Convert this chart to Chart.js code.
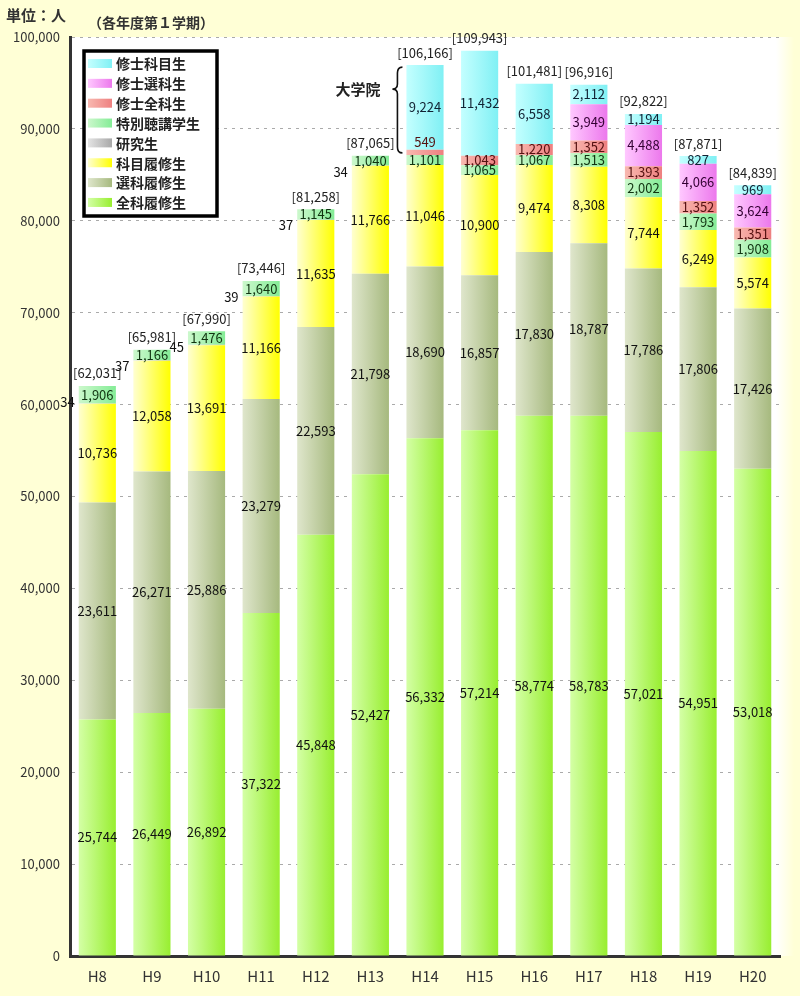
<!DOCTYPE html>
<html lang="ja">
<head>
<meta charset="utf-8">
<script src="https://cdn.jsdelivr.net/npm/chart.js@4"></script>
<style>
  html, body { margin: 0; padding: 0; background: #ffffd6; }
  #wrap { position: relative; width: 800px; height: 996px; }
</style>
</head>
<body>
<div id="wrap"><canvas id="enrollChart"></canvas></div>
<script>
// 各年度第1学期の在籍者数（単位：人）
const years = ["H8", "H9", "H10", "H11", "H12", "H13", "H14", "H15", "H16", "H17", "H18", "H19", "H20"];
const zenkaRishu = [25744, 26449, 26892, 37322, 45848, 52427, 56332, 57214, 58774, 58783, 57021, 54951, 53018];
const senkaRishu = [23611, 26271, 25886, 23279, 22593, 21798, 18690, 16857, 17830, 18787, 17786, 17806, 17426];
const kamokuRishu = [10736, 12058, 13691, 11166, 11635, 11766, 11046, 10900, 9474, 8308, 7744, 6249, 5574];
const kenkyusei = [34, 37, 45, 39, 37, 34, null, null, null, null, null, null, null];
const tokubetsuChoko = [1906, 1166, 1476, 1640, 1145, 1040, 1101, 1065, 1067, 1513, 2002, 1793, 1908];
const shushiZenka = [null, null, null, null, null, null, 549, 1043, 1220, 1352, 1393, 1352, 1351];
const shushiSenka = [null, null, null, null, null, null, null, null, null, 3949, 4488, 4066, 3624];
const shushiKamoku = [null, null, null, null, null, null, 9224, 11432, 6558, 2112, 1194, 827, 969];
const totals = [62031, 65981, 67990, 73446, 81258, 87065, 106166, 109943, 101481, 96916, 92822, 87871, 84839];
const yTicks = [0, 10000, 20000, 30000, 40000, 50000, 60000, 70000, 80000, 90000, 100000];

const FONT = "'Noto Sans CJK JP', 'Noto Sans', sans-serif";
const BAR_PCT = 0.68;

// horizontal gradient across each bar, light on the left
function barFill(colors) {
  return function (context) {
    const chart = context.chart;
    const xs = chart.scales.x;
    if (!chart.chartArea || !xs || context.dataIndex == null) return colors[1];
    const cx = xs.getPixelForValue(context.dataIndex);
    const half = (xs.width / years.length) * BAR_PCT / 2;
    const g = chart.ctx.createLinearGradient(cx - half, 0, cx + half, 0);
    g.addColorStop(0, colors[0]);
    g.addColorStop(1, colors[1]);
    return g;
  };
}

function makeSet(label, data, colors, textColor) {
  return {
    label: label,
    data: data,
    backgroundColor: barFill(colors),
    legendColors: colors,
    textColor: textColor,
    borderWidth: 0,
    stack: "s",
  };
}

const datasets = [
  makeSet("全科履修生", zenkaRishu, ["#d4ffa6", "#98ee30"], "#111"),
  makeSet("選科履修生", senkaRishu, ["#dfe6cc", "#a6b97e"], "#111"),
  makeSet("科目履修生", kamokuRishu, ["#ffffd0", "#ffff00"], "#111"),
  makeSet("研究生", kenkyusei, ["#e4e4e4", "#a8a8a8"], "#111"),
  makeSet("特別聴講学生", tokubetsuChoko, ["#ccf8cc", "#84ec96"], "#113311"),
  makeSet("修士全科生", shushiZenka, ["#f8b8b0", "#ee8080"], "#551111"),
  makeSet("修士選科生", shushiSenka, ["#ffc8ff", "#ec78ec"], "#330033"),
  makeSet("修士科目生", shushiKamoku, ["#c4ffff", "#80f0f4"], "#112233"),
];

const fmt = (v) => v.toLocaleString("en-US");

// yellow page, white plot area
const backdrop = {
  id: "backdrop",
  beforeDraw(chart) {
    const { ctx, chartArea: a, width, height } = chart;
    ctx.save();
    ctx.fillStyle = "#ffffd6";
    ctx.fillRect(0, 0, width, height);
    ctx.fillStyle = "#ffffff";
    ctx.fillRect(a.left, a.top, a.right - a.left, a.bottom - a.top);
    const g = ctx.createLinearGradient(a.right - 4, 0, a.right + 14, 0);
    g.addColorStop(0, "#ffffff");
    g.addColorStop(1, "#ffffd6");
    ctx.fillStyle = g;
    ctx.fillRect(a.right - 4, a.top, 18, a.bottom - a.top);
    ctx.restore();
  },
};

// value labels, totals, and the 大学院 brace
const segmentLabels = {
  id: "segmentLabels",
  afterDatasetsDraw(chart) {
    const ctx = chart.ctx;
    ctx.save();
    ctx.font = "13px " + FONT;
    ctx.textBaseline = "middle";
    const tops = years.map(() => Infinity);
    const researchBars = [];
    chart.data.datasets.forEach((ds, i) => {
      const meta = chart.getDatasetMeta(i);
      meta.data.forEach((bar, j) => {
        const v = ds.data[j];
        if (v == null) return;
        tops[j] = Math.min(tops[j], bar.y);
        if (ds.label === "研究生") {
          researchBars.push({ bar: bar, v: v, j: j });
          return;
        }
        let y = (bar.y + bar.base) / 2;
        if (bar.base - bar.y < 6) y -= 10;
        ctx.textAlign = "center";
        ctx.fillStyle = ds.textColor;
        ctx.fillText(fmt(v), bar.x, y);
      });
    });

    // 研究生: tiny segment, label to the left of the bar top
    ctx.textAlign = "right";
    ctx.fillStyle = "#111";
    researchBars.forEach((r) => {
      ctx.fillText(fmt(r.v), r.bar.x - r.bar.width / 2 - 4, tops[r.j] + 16);
    });

    ctx.textAlign = "center";
    ctx.textBaseline = "bottom";
    ctx.fillStyle = "#222";
    const xs = chart.scales.x;
    totals.forEach((t, j) => {
      ctx.fillText("[" + fmt(t) + "]", xs.getPixelForValue(j), tops[j] - 6);
    });

    // brace over the graduate-school part of H14
    const ys = chart.scales.y;
    const k = years.indexOf("H14");
    const under = zenkaRishu[k] + senkaRishu[k] + kamokuRishu[k] + (tokubetsuChoko[k] || 0);
    const grad = (shushiZenka[k] || 0) + (shushiSenka[k] || 0) + (shushiKamoku[k] || 0);
    const yb = ys.getPixelForValue(under) - 2;
    const yt = ys.getPixelForValue(under + grad) + 2;
    const half = (xs.width / years.length) * BAR_PCT / 2;
    const xr = xs.getPixelForValue(k) - half - 4;
    const xm = xr - 5;
    const xc = xr - 10;
    const ym = yt + 22;
    ctx.strokeStyle = "#111";
    ctx.lineWidth = 1.6;
    ctx.beginPath();
    ctx.moveTo(xr, yt);
    ctx.quadraticCurveTo(xm, yt, xm, yt + 6);
    ctx.lineTo(xm, ym - 5);
    ctx.quadraticCurveTo(xm, ym, xc, ym);
    ctx.quadraticCurveTo(xm, ym, xm, ym + 5);
    ctx.lineTo(xm, yb - 6);
    ctx.quadraticCurveTo(xm, yb, xr, yb);
    ctx.stroke();
    ctx.font = "bold 15px " + FONT;
    ctx.textAlign = "right";
    ctx.textBaseline = "middle";
    ctx.fillText("大学院", xc - 12, ym);
    ctx.restore();
  },
};

// boxed legend and headings
const boxLegend = {
  id: "boxLegend",
  afterDraw(chart) {
    const ctx = chart.ctx;
    ctx.save();
    ctx.fillStyle = "#ffffff";
    ctx.fillRect(84, 51, 133, 165);
    ctx.strokeStyle = "#000";
    ctx.lineWidth = 3.5;
    ctx.strokeRect(84, 51, 133, 165);
    ctx.font = "bold 14px " + FONT;
    ctx.textAlign = "left";
    ctx.textBaseline = "middle";
    const items = chart.data.datasets.slice().reverse();
    items.forEach((ds, i) => {
      const y = 63 + i * 19.85;
      const g = ctx.createLinearGradient(88, 0, 112, 0);
      g.addColorStop(0, ds.legendColors[0]);
      g.addColorStop(1, ds.legendColors[1]);
      ctx.fillStyle = g;
      ctx.fillRect(88, y - 4, 24, 9);
      ctx.fillStyle = "#222";
      ctx.fillText(ds.label, 116, y + 1);
    });

    ctx.fillStyle = "#333";
    ctx.font = "bold 15px " + FONT;
    ctx.fillText("単位：人", 6, 15);
    ctx.font = "bold 14px " + FONT;
    ctx.fillText("（各年度第１学期）", 88, 23);
    ctx.restore();
  },
};

new Chart(document.getElementById("enrollChart"), {
  type: "bar",
  data: { labels: years, datasets: datasets },
  options: {
    responsive: true,
    maintainAspectRatio: false,
    animation: false,
    layout: { padding: { top: 37, right: 20, left: 0, bottom: 0 } },
    plugins: { legend: { display: false }, tooltip: { enabled: false } },
    datasets: { bar: { categoryPercentage: 1, barPercentage: BAR_PCT } },
    scales: {
      x: {
        stacked: true,
        grid: { display: false, drawTicks: false },
        border: { color: "#333", width: 3 },
        ticks: { color: "#333", font: { family: FONT, size: 15 }, padding: 11 },
        afterFit: (s) => { s.height = 40; },
      },
      y: {
        stacked: true,
        min: 0,
        max: 100000,
        afterBuildTicks: (s) => { s.ticks = yTicks.map((v) => ({ value: v })); },
        grid: { color: "#aaaaaa", lineWidth: 1, drawTicks: false },
        border: { color: "#333", width: 3, dash: [3, 5] },
        ticks: {
          color: "#333",
          font: { family: FONT, size: 13 },
          padding: 10,
          callback: (v) => fmt(v),
        },
        afterFit: (s) => { s.width = 70; },
      },
    },
  },
  plugins: [backdrop, segmentLabels, boxLegend],
});
</script>
</body>
</html>
